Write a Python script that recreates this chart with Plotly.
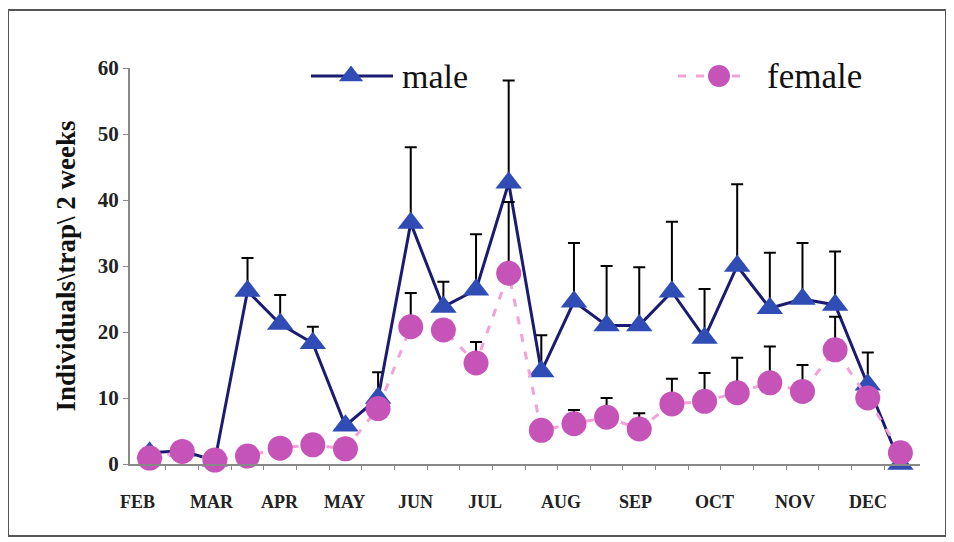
import plotly.graph_objects as go

# ---- data ----
months = ["FEB", "MAR", "APR", "MAY", "JUN", "JUL", "AUG", "SEP", "OCT", "NOV", "DEC"]
month_pos = [-0.37, 1.92, 3.99, 5.98, 8.16, 10.28, 12.6, 14.88, 17.32, 19.78, 22.0]
samples = list(range(24))

male = [1.7, 2.0, 0.5, 26.2, 21.2, 18.3, 5.8, 10.0, 36.5, 23.8, 26.4, 42.6,
        14.0, 24.6, 21.0, 21.0, 26.1, 19.1, 30.0, 23.6, 25.0, 24.1, 12.0, 0.0]
male_err = [None, None, None, 5.0, 4.4, 2.5, None, 3.9, 11.5, 3.8, 8.4, 15.5,
            5.5, 8.9, 9.0, 8.8, 10.6, 7.4, 12.4, 8.4, 8.5, 8.1, 4.9, None]

female = [0.9, 1.9, 0.6, 1.2, 2.4, 2.9, 2.3, 8.4, 20.8, 20.3, 15.3, 28.9,
          5.1, 6.1, 7.1, 5.3, 9.1, 9.5, 10.8, 12.3, 11.0, 17.3, 10.0, 1.7]
female_err = [None, None, None, None, None, None, None, None, 5.1, None, 3.2, 10.8,
              None, 2.1, 2.9, 2.4, 3.8, 4.3, 5.3, 5.5, 4.0, 5.0, None, None]

y_ticks = [0, 10, 20, 30, 40, 50, 60]

# ---- styles ----
MALE_LINE = "#1B1B72"
MALE_MARK = "#2F4DB5"
FEM_LINE = "#F2A2D6"
FEM_MARK = "#C553B8"
SERIF = "Liberation Serif, Times New Roman, serif"

# page has an 8px body margin; plot area target in screen px: x 130-920, y 68-464
L, R_EDGE, T, B_EDGE = 122, 912, 60, 456
W, H = 954, 542

fig = go.Figure()

fig.add_trace(go.Scatter(
    x=samples, y=male, mode="lines+markers", name="male",
    line=dict(color=MALE_LINE, width=3),
    marker=dict(symbol="triangle-up", size=23, color=MALE_MARK),
    error_y=dict(type="data", symmetric=False, array=male_err,
                 arrayminus=[0] * len(male), color="black", thickness=2, width=6),
    cliponaxis=False, showlegend=False))

fig.add_trace(go.Scatter(
    x=samples, y=female, mode="lines+markers", name="female",
    line=dict(color=FEM_LINE, width=3, dash="8px,10px"),
    marker=dict(symbol="circle", size=25, color=FEM_MARK),
    error_y=dict(type="data", symmetric=False, array=female_err,
                 arrayminus=[0] * len(female), color="black", thickness=2, width=6),
    cliponaxis=False, showlegend=False))

# ---- hand-drawn legend on a pixel overlay axis (screen px coords) ----
fig.add_trace(go.Scatter(
    x=[351], y=[76], mode="markers", xaxis="x3", yaxis="y3",
    marker=dict(symbol="triangle-up", size=21, color=MALE_MARK),
    showlegend=False, hoverinfo="skip", cliponaxis=False))
fig.add_trace(go.Scatter(
    x=[719], y=[76], mode="markers", xaxis="x3", yaxis="y3",
    marker=dict(symbol="circle", size=22, color=FEM_MARK),
    showlegend=False, hoverinfo="skip", cliponaxis=False))

pw, ph = R_EDGE - L, B_EDGE - T
shapes = [
    dict(type="line", xref="x3", yref="y3", x0=311, x1=393, y0=76, y1=76,
         line=dict(color=MALE_LINE, width=3), layer="below"),
    dict(type="line", xref="x3", yref="y3", x0=678, x1=750, y0=76, y1=76,
         line=dict(color=FEM_LINE, width=3, dash="8px,10px"), layer="below"),
    # outer frame (screen px 8..946 x 10..536)
    dict(type="rect", xref="paper", yref="paper",
         x0=(8 - 130) / pw, x1=(946 - 130) / pw,
         y0=(464 - 536) / ph, y1=(464 - 10) / ph,
         line=dict(color="#555555", width=2), fillcolor="rgba(0,0,0,0)"),
]

annotations = [
    dict(text="male", xref="x3", yref="y3", x=400, y=76, xanchor="left",
         yanchor="middle", showarrow=False,
         font=dict(family=SERIF, size=34, color="#111111")),
    dict(text="female", xref="x3", yref="y3", x=765, y=76, xanchor="left",
         yanchor="middle", showarrow=False,
         font=dict(family=SERIF, size=35, color="#111111")),
]
for m, p in zip(months, month_pos):
    annotations.append(dict(text=m, xref="x", yref="paper", x=p, y=0,
                            xanchor="center", yanchor="middle", yshift=-38,
                            showarrow=False,
                            font=dict(family=SERIF, size=18, color="#222222",
                                      weight="bold")))

fig.update_layout(
    width=W, height=H,
    margin=dict(l=L, r=W - R_EDGE, t=T, b=H - B_EDGE),
    paper_bgcolor="white", plot_bgcolor="white",
    shapes=shapes, annotations=annotations,
    xaxis=dict(range=[-0.6, 23.6], tickvals=[i + 0.5 for i in range(23)],
               ticktext=[""] * 23, ticks="outside", ticklen=4, tickcolor="#888888",
               showline=True, linecolor="#888888", linewidth=2,
               showgrid=False, zeroline=False),
    xaxis3=dict(overlaying="x", range=[130, 920], visible=False),
    yaxis3=dict(overlaying="y", range=[464, 68], visible=False),
    yaxis=dict(range=[0, 60], tickvals=y_ticks, ticks="outside", ticklen=5,
               tickcolor="#888888", showline=True, linecolor="#888888", linewidth=2,
               showgrid=False, zeroline=False,
               tickfont=dict(family=SERIF, size=21, color="#222222", weight="bold"),
               title=dict(text="Individuals\\trap\\ 2 weeks", standoff=14,
                          font=dict(family=SERIF, size=27, color="#111111",
                                    weight="bold"))),
)

fig.write_html("out.html")
